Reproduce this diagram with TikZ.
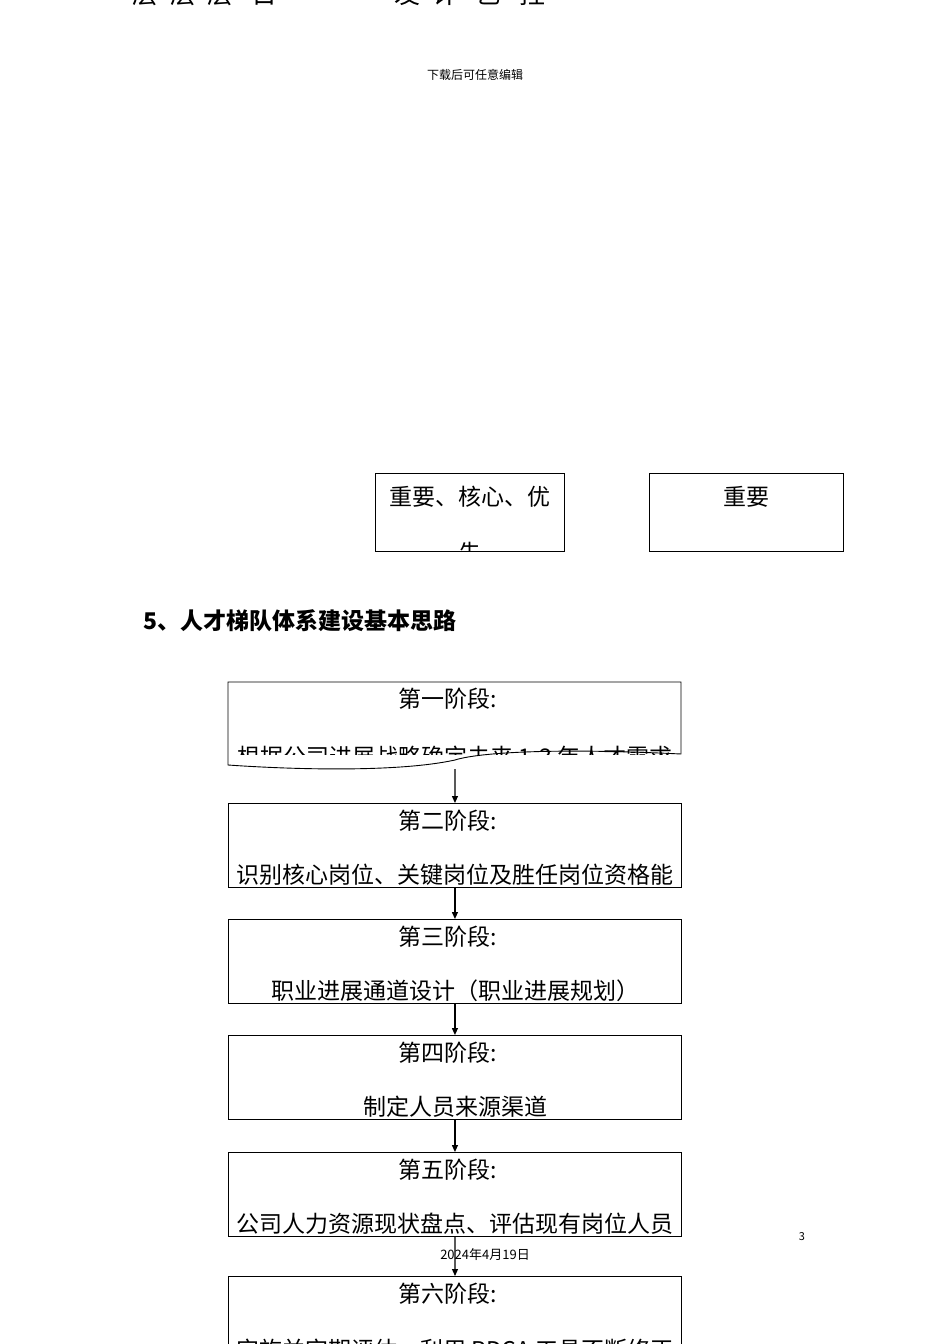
\documentclass[tikz,border=0pt]{standalone}
\usepackage{fontspec}
\setmainfont{Noto Sans CJK SC}
\usetikzlibrary{arrows.meta}
\tikzset{
 bx/.style={draw=black,line width=0.9pt},
 tx/.style={inner sep=0pt,anchor=center,font=\fontsize{23}{23}\selectfont},
 ar/.style={-{Triangle[length=7pt,width=6pt]},line width=1.1pt}
}
\begin{document}
\begin{tikzpicture}[x=1pt,y=-1pt]
\useasboundingbox (0,0) rectangle (950,1344);
\begin{scope}
\clip (0,0) rectangle (950,1344);
\node[tx,font=\fontsize{26}{26}\selectfont] (top1) at (205,-6) {层\ \ 层\ \ 层\ \ \ 日};
\node[tx,font=\fontsize{26}{26}\selectfont] (top2) at (470,-6) {发\ \ 计\ \ \ 艺\ \ \ 拄};
\end{scope}
\node[tx,font=\fontsize{12}{12}\selectfont] (dl) at (475,75) {下载后可任意编辑};
% top boxes
\begin{scope}\clip (375,473) rectangle (564,551);
\node[tx] (ta) at (470,497) {重要、核心、优};
\node[tx] (tb) at (470,553) {先};
\end{scope}
\draw[bx] (375,473) rectangle (564,551);
\node[draw,bx,minimum width=194pt,minimum height=78pt,anchor=north west,inner sep=0pt] (tc) at (649,473) {};
\node[tx] (tcl) at (746,497) {重要};
\node[tx,anchor=west,font=\fontsize{23}{23}\selectfont\bfseries] (h) at (143,621) {5、人才梯队体系建设基本思路};
% box1
\begin{scope}\clip (228,682) rectangle (681,754);
\node[tx] at (448,699) {第一阶段:};
\node[tx] at (455,757) {根据公司进展战略确定未来 1-3 年人才需求};
\end{scope}
\draw[bx] (228,682) -- (681,682) -- (681,754) .. controls (560,748) and (480,752) .. (455,760) .. controls (400,772) and (300,770) .. (228,765) -- cycle;
\coordinate (b1) at (455,769);
% generic boxes
\foreach \n/\y/\a/\b in {2/803/第二阶段:/识别核心岗位、关键岗位及胜任岗位资格能,
3/919/第三阶段:/职业进展通道设计（职业进展规划）,
4/1035/第四阶段:/制定人员来源渠道,
5/1152/第五阶段:/公司人力资源现状盘点、评估现有岗位人员}{
 \begin{scope}\clip (228,\y) rectangle (681,\y+84);
 \node[tx] at (448,\y+18) {\a};
 \node[tx] at (455,\y+72) {\b};
 \end{scope}
 \node[bx,draw,minimum width=453pt,minimum height=84pt,anchor=north west,inner sep=0pt] (s\n) at (228,\y) {};
}
\begin{scope}\clip (228,1276) rectangle (681,1344);
\node[tx] at (448,1294) {第六阶段:};
\node[tx] at (455,1350) {实施并定期评估，利用 PDCA 工具不断修正};
\end{scope}
\draw[bx] (228,1350) -- (228,1276) -- (681,1276) -- (681,1350);
\coordinate (s6) at (455,1276);
\draw[ar] (b1) -- (s2.north);
\draw[ar] (s2.south) -- (s3.north);
\draw[ar] (s3.south) -- (s4.north);
\draw[ar] (s4.south) -- (s5.north);
\draw[ar] (s5.south) -- (s6);
\node[tx,font=\fontsize{13}{13}\selectfont] (date) at (485,1255) {2024年4月19日};
\node[tx,font=\fontsize{11}{11}\selectfont] (pg) at (802,1237) {3};
\end{tikzpicture}
\end{document}
